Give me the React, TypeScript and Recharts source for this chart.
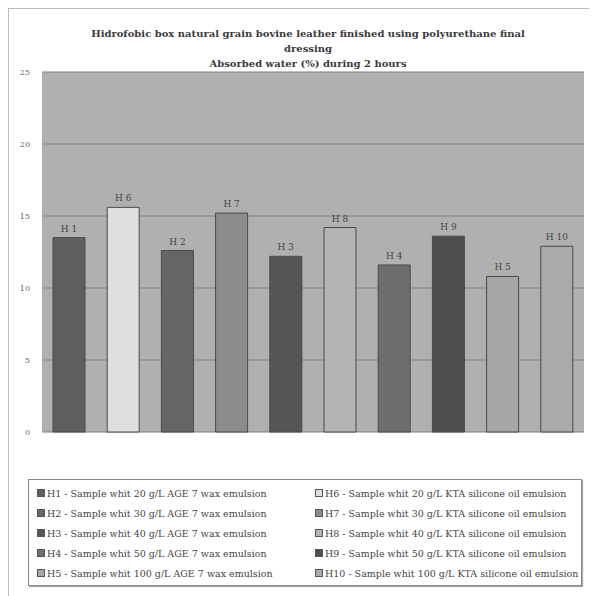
import React from "react";
import { BarChart, Bar, XAxis, YAxis, CartesianGrid, Cell, LabelList } from "recharts";

const categories = ["H 1", "H 6", "H 2", "H 7", "H 3", "H 8", "H 4", "H 9", "H 5", "H 10"];
const absorbedWater = [13.5, 15.6, 12.6, 15.2, 12.2, 14.2, 11.6, 13.6, 10.8, 12.9];
const barColors = ["#5f5f5f", "#dedede", "#666666", "#8c8c8c", "#555555", "#b4b4b4", "#6e6e6e", "#4e4e4e", "#a6a6a6", "#aaaaaa"];
const yTicks = [0, 5, 10, 15, 20, 25];

const legendLeft = [
  "H1 - Sample whit 20 g/L AGE 7 wax emulsion",
  "H2 - Sample whit 30 g/L AGE 7 wax emulsion",
  "H3 - Sample whit 40 g/L AGE 7 wax emulsion",
  "H4 - Sample whit 50 g/L AGE 7 wax emulsion",
  "H5 - Sample whit 100 g/L AGE 7 wax emulsion",
];
const legendLeftColors = ["#5f5f5f", "#666666", "#555555", "#6e6e6e", "#a6a6a6"];
const legendRight = [
  "H6 - Sample whit 20 g/L KTA silicone oil emulsion",
  "H7 - Sample whit 30 g/L KTA silicone oil emulsion",
  "H8 - Sample whit 40 g/L KTA silicone oil emulsion",
  "H9 - Sample whit 50 g/L KTA silicone oil emulsion",
  "H10 - Sample whit 100 g/L KTA silicone oil emulsion",
];
const legendRightColors = ["#dedede", "#8c8c8c", "#b4b4b4", "#4e4e4e", "#aaaaaa"];

const titleLines = [
  "Hidrofobic box natural grain bovine leather finished using polyurethane final",
  "dressing",
  "Absorbed water (%) during 2 hours",
];

const data = categories.map((c, i) => ({ name: c, value: absorbedWater[i] }));

const FONT = "'DejaVu Serif', serif";

function LegendItem({ text, color }: { text: string; color: string }) {
  return (
    <div style={{ display: "flex", alignItems: "center", height: 20, whiteSpace: "nowrap" }}>
      <span
        style={{
          display: "inline-block",
          width: 6,
          height: 6,
          background: color,
          border: "1px solid #555",
          marginRight: 2,
        }}
      />
      <span>{text}</span>
    </div>
  );
}

const renderBarLabel = (props: any) => {
  const { x, y, width, value } = props;
  return (
    <text
      x={Number(x) + Number(width) / 2}
      y={Number(y) - 6}
      textAnchor="middle"
      fontSize={9}
      fill="#444"
      fontFamily={FONT}
    >
      {value}
    </text>
  );
};

export default function App() {
  return (
    <div
      style={{
        position: "relative",
        width: 589,
        height: 588,
        borderLeft: "1px solid #bbb",
        borderTop: "1px solid #bbb",
        boxSizing: "border-box",
        fontFamily: FONT,
        color: "#333",
      }}
    >
      <div
        style={{
          position: "absolute",
          left: 0,
          top: 17,
          width: 598,
          textAlign: "center",
          fontSize: 10,
          fontWeight: "bold",
          lineHeight: "15px",
          color: "#3a3a3a",
        }}
      >
        {titleLines.map((t, i) => (
          <div key={i}>{t}</div>
        ))}
      </div>
      <div style={{ position: "absolute", left: -1, top: -1 }}>
        <BarChart
          width={589}
          height={440}
          data={data}
          margin={{ top: 64, right: 13, bottom: 16, left: 0 }}
          barCategoryGap={0}
        >
          <CartesianGrid vertical={false} stroke="#808080" fill="#b0b0b0" strokeWidth={1} />
          <XAxis dataKey="name" hide />
          <YAxis
            domain={[0, 25]}
            ticks={yTicks}
            width={34}
            axisLine={false}
            tickLine={false}
            tick={{ fontSize: 8, fill: "#666", fontFamily: FONT }}
            tickMargin={6}
          />
          <Bar dataKey="value" barSize={32} stroke="#4a4a4a" strokeWidth={1} isAnimationActive={false}>
            {data.map((d, i) => (
              <Cell key={d.name} fill={barColors[i]} />
            ))}
            <LabelList dataKey="name" content={renderBarLabel} />
          </Bar>
        </BarChart>
      </div>
      <div
        style={{
          position: "absolute",
          left: 19,
          top: 470,
          width: 554,
          height: 107,
          border: "1px solid #888",
          boxShadow: "1px 1px 1px #aaa",
          boxSizing: "border-box",
          fontSize: 9.5,
          color: "#444",
          display: "flex",
          padding: "3px 0 0 8px",
        }}
      >
        <div style={{ width: 278 }}>
          {legendLeft.map((t, i) => (
            <LegendItem key={t} text={t} color={legendLeftColors[i]} />
          ))}
        </div>
        <div>
          {legendRight.map((t, i) => (
            <LegendItem key={t} text={t} color={legendRightColors[i]} />
          ))}
        </div>
      </div>
    </div>
  );
}
